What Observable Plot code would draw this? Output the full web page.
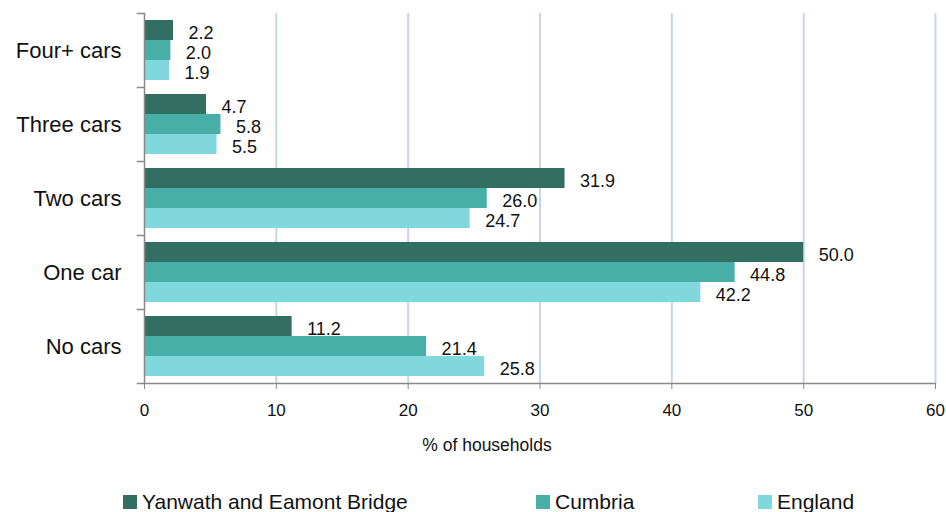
<!DOCTYPE html>
<html><head><meta charset="utf-8">
<script src="https://cdn.jsdelivr.net/npm/d3@7"></script>
<script src="https://cdn.jsdelivr.net/npm/@observablehq/plot@0.6"></script>
<style>
body{margin:0;background:#fff;font-family:"Liberation Sans",Arial,sans-serif;}
#wrap{position:relative;width:946px;height:512px;overflow:hidden;}
#legend{position:absolute;top:490px;left:0;width:946px;height:24px;font-size:21px;color:#111;}
.item{position:absolute;display:flex;align-items:center;gap:5px;white-space:nowrap;line-height:24px;}
.sw{width:14px;height:14px;display:inline-block;}
</style></head>
<body><div id="wrap"><div id="chart"></div><div id="legend"></div></div>
<script>
const categories = ["Four+ cars", "Three cars", "Two cars", "One car", "No cars"];
const seriesNames = ["Yanwath and Eamont Bridge", "Cumbria", "England"];
const yanwath = [2.2, 4.7, 31.9, 50.0, 11.2];
const cumbria = [2.0, 5.8, 26.0, 44.8, 21.4];
const england = [1.9, 5.5, 24.7, 42.2, 25.8];
const xTicks = [0, 10, 20, 30, 40, 50, 60];
const colors = ["#326e62", "#47aea8", "#80d8dd"];

const seriesValues = [yanwath, cumbria, england];
const step = 74, barH = 20, outer = 7;

const seriesMarks = [];
seriesValues.forEach((vals, s) => {
  const data = categories.map((c, i) => ({cat: c, value: vals[i], series: seriesNames[s]}));
  const top = outer + s * barH;
  seriesMarks.push(Plot.barX(data, {
    y: "cat", x1: 0, x2: "value", fill: colors[s],
    insetTop: top, insetBottom: step - top - barH
  }));
  seriesMarks.push(Plot.text(data, {
    y: "cat", x: "value", text: d => d.value.toFixed(1),
    textAnchor: "start", dx: 15, dy: (s - 1) * barH + 2.5,
    fontSize: 18, fill: "#111"
  }));
});

const chart = Plot.plot({
  width: 946, height: 480,
  marginLeft: 144, marginRight: 11, marginTop: 13, marginBottom: 97,
  style: {fontFamily: "Liberation Sans, Arial, sans-serif", background: "#fff"},
  x: {domain: [0, 60], ticks: xTicks},
  y: {domain: categories, padding: 0},
  marks: [
    Plot.gridX(xTicks.filter(t => t > 0), {stroke: "#c5d5ec", strokeOpacity: 1, strokeWidth: 2}),
    ...seriesMarks,
    Plot.frame({anchor: "left", stroke: "#888", strokeWidth: 1.5}),
    Plot.frame({anchor: "bottom", stroke: "#888", strokeWidth: 1.5}),
    Plot.ruleY(categories, {y: d => d, x1: -0.55, x2: 0, dy: -step / 2, stroke: "#888", strokeWidth: 1.5}),
    Plot.ruleY(categories.slice(-1), {y: d => d, x1: -0.55, x2: 0, dy: step / 2, stroke: "#888", strokeWidth: 1.5}),
    Plot.axisX({ticks: xTicks, tickSize: 6, tickPadding: 14, stroke: "#888", fontSize: 17, fill: "#111", label: null, tickFormat: d => d}),
    Plot.axisY({tickSize: 0, tickPadding: 23, fontSize: 22, fill: "#111", label: null}),
    Plot.text(["% of households"], {frameAnchor: "bottom", dx: -53, dy: 67, fontSize: 17.5, fill: "#111"})
  ]
});
document.getElementById("chart").appendChild(chart);

const legend = document.getElementById("legend");
const lefts = [123, 536, 758];
seriesNames.forEach((n, i) => {
  const it = document.createElement("div");
  it.className = "item";
  it.style.left = lefts[i] + "px";
  it.innerHTML = `<span class="sw" style="background:${colors[i]}"></span><span>${n}</span>`;
  legend.appendChild(it);
});
</script></body></html>
